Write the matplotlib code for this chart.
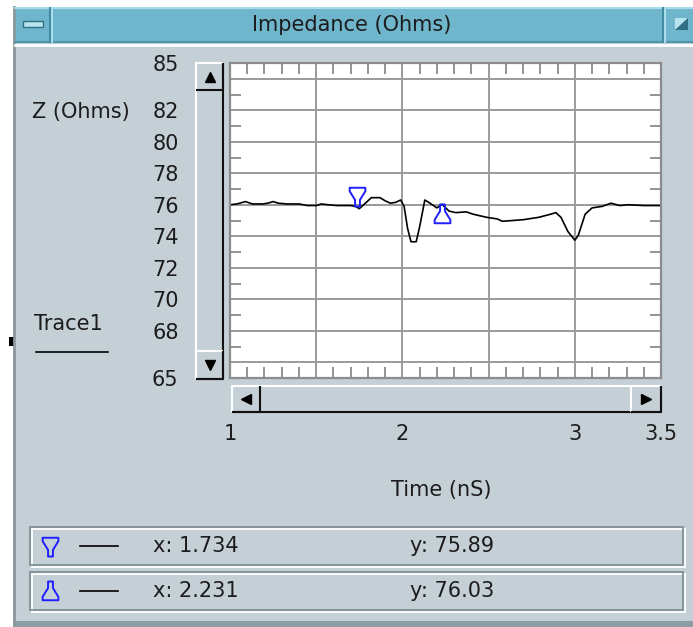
import numpy as np
import matplotlib.pyplot as plt
from matplotlib.patches import Rectangle, Polygon
from matplotlib.path import Path
from matplotlib.ticker import MultipleLocator

# trace (time in nS, impedance in ohms)
time_ns = [1.00, 1.04, 1.09, 1.13, 1.19, 1.22, 1.25, 1.28, 1.33, 1.40, 1.45, 1.50,
           1.53, 1.57, 1.62, 1.70, 1.73, 1.75, 1.78, 1.82, 1.87, 1.90, 1.93, 1.96,
           1.99, 2.01, 2.03, 2.05, 2.08, 2.10, 2.13, 2.16, 2.20, 2.23, 2.27, 2.31,
           2.37, 2.41, 2.49, 2.55, 2.58, 2.64, 2.70, 2.79, 2.86, 2.89, 2.92, 2.96,
           3.00, 3.02, 3.06, 3.10, 3.16, 3.21, 3.26, 3.31, 3.40, 3.50]
impedance = [76.0, 76.05, 76.2, 76.05, 76.05, 76.1, 76.2, 76.1, 76.05, 76.05, 75.95, 75.95,
             76.05, 76.0, 75.95, 75.95, 75.89, 75.75, 76.05, 76.45, 76.45, 76.25, 76.1, 76.15,
             76.3, 75.9, 74.5, 73.65, 73.65, 74.6, 76.3, 76.1, 75.8, 76.03, 75.6, 75.5,
             75.55, 75.4, 75.2, 75.1, 74.95, 75.0, 75.05, 75.2, 75.4, 75.5, 75.2, 74.3,
             73.75, 74.05, 75.4, 75.8, 75.9, 76.1, 75.95, 76.0, 75.95, 75.95]

marker_x = [1.734, 2.231]
marker_y = [75.89, 76.03]

x_labels = [1, 2, 3, 3.5]
y_labels = [65, 68, 70, 72, 74, 76, 78, 80, 82, 85]

W, H = 693, 627
panel = '#c4d0d6'
txt = '#1c1c1c'
FS = 15

fig = plt.figure(figsize=(W / 100, H / 100), dpi=100)
fig.patch.set_facecolor('white')

bg = fig.add_axes([0, 0, 1, 1])
bg.set_xlim(0, W)
bg.set_ylim(H, 0)
bg.axis('off')


def raised(x0, y0, x1, y1, dark='#111111', light='white'):
    bg.add_patch(Rectangle((x0, y0), x1 - x0, y1 - y0, fc=panel, ec='none'))
    bg.plot([x0, x0, x1], [y1, y0, y0], color=light, lw=1.5, solid_capstyle='butt')
    bg.plot([x0, x1, x1], [y1, y1, y0], color=dark, lw=1.5, solid_capstyle='butt')


def etched(x0, y0, x1, y1):
    bg.add_patch(Rectangle((x0 + 1.5, y0 + 1.5), x1 - x0, y1 - y0, fill=False, ec='white', lw=1.3))
    bg.add_patch(Rectangle((x0, y0), x1 - x0, y1 - y0, fill=False, ec='#7f8f96', lw=1.3))


# window
bg.add_patch(Rectangle((13, 7), 680, 617, fc=panel, ec='none'))
bg.add_patch(Rectangle((13, 621), 680, 6, fc='#8d9da4', ec='none'))
bg.plot([14, 14], [7, 624], color='#8a979d', lw=2)
bg.add_patch(Rectangle((15, 7), 678, 35, fc='#6fb6cd', ec='none'))
bg.plot([15, 693], [8, 8], color='#a8dcea', lw=1.5)
bg.plot([15, 693], [42, 42], color='#4f95ab', lw=1.5)
bg.plot([15, 693], [44.5, 44.5], color='white', lw=2)
for sx in [50, 663]:
    bg.plot([sx, sx], [8, 42], color='#3f8aa2', lw=1.5)
    bg.plot([sx + 2, sx + 2], [8, 42], color='#a8dcea', lw=1.5)
bg.add_patch(Rectangle((23, 21), 20, 6, fc='#b9e3ef', ec='#2f6f83', lw=1))
bg.add_patch(Polygon([(675, 18), (688, 18), (675, 30)], fc='#b9e3ef', ec='none'))
bg.add_patch(Polygon([(688, 18), (688, 30), (675, 30)], fc='#2f6f83', ec='none'))
bg.text(352, 25, 'Impedance (Ohms)', ha='center', va='center', fontsize=FS, color=txt)

bg.add_patch(Rectangle((9, 337), 6, 9, fc='black', ec='none'))

# scroll bars
raised(196, 63, 223, 379)
raised(196, 63, 223, 90)
raised(196, 351, 223, 379)
bg.plot(210, 77, marker='^', color='black', ms=7)
bg.plot(210, 365, marker='v', color='black', ms=7)
raised(232, 386, 661, 412)
raised(232, 386, 260, 412)
raised(631, 386, 661, 412)
bg.plot(246, 399, marker='<', color='black', ms=7)
bg.plot(646, 399, marker='>', color='black', ms=7)

bg.text(32, 112, 'Z (Ohms)', ha='left', va='center', fontsize=FS, color=txt)
bg.text(34, 324, 'Trace1', ha='left', va='center', fontsize=FS, color=txt)
bg.plot([36, 108], [352, 352], color='black', lw=1.2)
bg.text(441, 490, 'Time (nS)', ha='center', va='center', fontsize=FS, color=txt)

# marker shapes, tip at the origin
pin_down = Path([(-0.42, 1.0), (0.42, 1.0), (0.42, 0.82), (0.13, 0.35), (0.13, 0.0),
                 (-0.13, 0.0), (-0.13, 0.35), (-0.42, 0.82), (-0.42, 1.0)],
                [Path.MOVETO] + [Path.LINETO] * 7 + [Path.CLOSEPOLY])
pin_up = Path([(x, -y) for x, y in pin_down.vertices], pin_down.codes)
pins = [pin_down, pin_up]

# readout boxes
rows = [546, 591]
for i in range(2):
    y = rows[i]
    etched(30, y - 19, 683, y + 19)
    tip = y + 10 if i == 0 else y - 10
    bg.plot(50, tip, marker=pins[i], ms=27, mfc='none', mec='#1f1fff', mew=1.4)
    bg.plot([80, 118], [y, y], color='black', lw=1.2)
    bg.text(153, y, f'x: {marker_x[i]}', ha='left', va='center', fontsize=FS, color=txt)
    bg.text(410, y, f'y: {marker_y[i]:.2f}', ha='left', va='center', fontsize=FS, color=txt)

# plot area
pos = [230 / W, 1 - 378 / H, 431 / W, 315 / H]
ax_lab = fig.add_axes(pos)
ax_lab.set_facecolor('white')
ax_lab.set_xlim(1, 3.5)
ax_lab.set_ylim(65, 85)
ax_lab.set_xticks(x_labels, [str(v) for v in x_labels])
ax_lab.set_yticks(y_labels, [str(v) for v in y_labels])
ax_lab.tick_params(length=0, labelsize=FS, labelcolor=txt)
ax_lab.tick_params(axis='y', pad=37)
ax_lab.tick_params(axis='x', pad=33)
for s in ax_lab.spines.values():
    s.set_visible(False)

ax = fig.add_axes(pos)
ax.set_facecolor('none')
ax.set_xlim(1, 3.5)
ax.set_ylim(65, 85)
ax.xaxis.set_major_locator(MultipleLocator(0.5))
ax.xaxis.set_minor_locator(MultipleLocator(0.1))
ax.yaxis.set_major_locator(MultipleLocator(2))
ax.yaxis.set_minor_locator(MultipleLocator(1))
ax.tick_params(which='major', length=0, labelleft=False, labelbottom=False)
ax.tick_params(which='minor', direction='in', length=8, width=1.3, color='#8a8a8a',
               top=True, bottom=True, left=True, right=True)
ax.grid(which='major', color='#9a9a9a', lw=1.4)
for s in ax.spines.values():
    s.set_color('#8c8c8c')
    s.set_linewidth(1.6)

ax.plot(time_ns, impedance, color='black', lw=1.2)
for i in range(2):
    ax.plot(marker_x[i], marker_y[i], marker=pins[i], ms=27, mfc='none', mec='#1f1fff', mew=1.4)

fig.savefig('out.png', dpi=100, facecolor=fig.get_facecolor())
